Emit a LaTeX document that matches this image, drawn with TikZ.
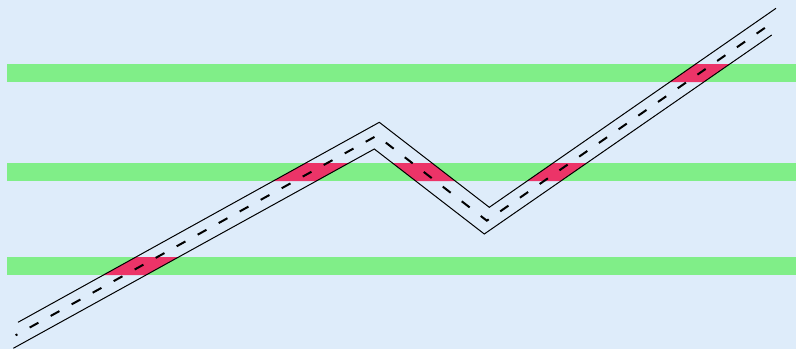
\documentclass[tikz,border=0pt]{standalone}
\usepackage{tikz}
\usetikzlibrary{calc}
\definecolor{fundo}{RGB}{222,236,250}
\definecolor{faixa}{RGB}{128,238,136}
\definecolor{cruza}{RGB}{236,52,104}

\begin{document}
\begin{tikzpicture}[x=1pt,y=-1pt]
        % fundo
        \fill[fundo] (0,0) rectangle (796,349);
        \useasboundingbox (0,0) rectangle (796,349);
        % faixas verdes
        \foreach \y in {64,163,257} {
          \fill[faixa] (7,\y) rectangle (796,\y+18);
        }
        % bordas da estrada
        \coordinate (a1) at (18,322.3);
        \coordinate (a2) at (379.3,122.3);
        \coordinate (a3) at (489.3,207.3);
        \coordinate (a4) at (776,8.3);
        \coordinate (b1) at (13.3,348.3);
        \coordinate (b2) at (374.3,149);
        \coordinate (b3) at (484.3,234);
        \coordinate (b4) at (771.7,35);
        % cruzamentos
        \begin{scope}
          \clip (7,64) rectangle (796,82) (7,163) rectangle (796,181)
            (7,257) rectangle (796,275);
          \fill[cruza] (a1) -- (a2) -- (a3) -- (a4) -- (b4) -- (b3) -- (b2) -- (b1) -- cycle;
        \end{scope}
        \draw[line width=1] (a1) -- (a2) -- (a3) -- (a4);
        \draw[line width=1] (b1) -- (b2) -- (b3) -- (b4);
        % linha central tracejada
        \draw[line width=2, dash pattern=on 10pt off 14pt, dash phase=8pt]
          ($(a1)!0.5!(b1)$) -- ($(a2)!0.5!(b2)$) -- ($(a3)!0.5!(b3)$) -- ($(a4)!0.5!(b4)$);
      \end{tikzpicture}
\end{document}
